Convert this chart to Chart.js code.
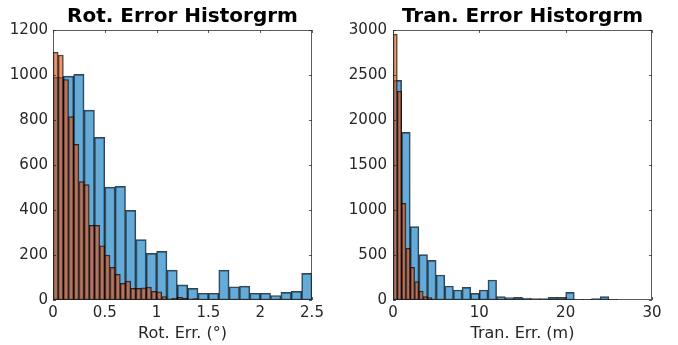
<!DOCTYPE html>
<html>
<head>
<meta charset="utf-8">
<script src="https://cdn.jsdelivr.net/npm/chart.js@4.4.1/dist/chart.umd.min.js"></script>
<style>
  html, body { margin: 0; padding: 0; background: #fff; }
  #wrap { position: relative; width: 678px; height: 345px; }
  canvas { position: absolute; top: 0; }
  #rotChart { left: 0; }
  #tranChart { left: 339px; }
</style>
</head>
<body>
<div id="wrap">
  <canvas id="rotChart" width="339" height="345"></canvas>
  <canvas id="tranChart" width="339" height="345"></canvas>
</div>
<script>
// rotation error histogram (degrees)
const rotBinA = 0.1;   // blue bin width
const rotBinB = 0.05;  // orange bin width
const rotCountsA = [990, 995, 1003, 844, 723, 502, 505, 398, 268, 207, 216, 133, 67,
                    52, 30, 30, 133, 59, 62, 30, 30, 20, 34, 38, 118];
const rotCountsB = [1101, 1089, 980, 815, 692, 526, 513, 332, 332, 241, 200, 145, 114,
                    74, 84, 52, 52, 54, 57, 38, 36, 15, 5, 8, 12, 7, 4, 6, 3, 2, 3, 2, 1, 2, 1];
const rotTicksX = [0, 0.5, 1, 1.5, 2, 2.5];
const rotTicksY = [0, 200, 400, 600, 800, 1000, 1200];

// translation error histogram (metres)
const tranBinA = 1;
const tranBinB = 0.5;
const tranCountsA = [2440, 1863, 815, 505, 440, 278, 156, 111, 141, 74, 111, 222, 37,
                     26, 30, 22, 15, 15, 30, 30, 85, 7, 7, 15, 37, 7];
const tranCountsB = [2955, 2320, 1074, 574, 363, 204, 100, 37, 26, 7];
const tranTicksX = [0, 10, 20, 30];
const tranTicksY = [0, 500, 1000, 1500, 2000, 2500, 3000];

const FONT = "'DejaVu Sans', sans-serif";
const TEXT = '#262626';

function toBins(counts, width) {
    return counts.map((c, i) => ({ x: (i + 0.5) * width, y: c }));
}

// MATLAB style box with inward ticks
const boxPlugin = {
    id: 'matlabBox',
    afterDatasetsDraw(chart) {
        const { ctx, chartArea: a, scales } = chart;
        const x = scales.x, y = scales.y;
        const len = 3;
        ctx.save();
        ctx.strokeStyle = 'rgba(38,38,38,0.75)';
        ctx.lineWidth = 1;
        ctx.strokeRect(Math.round(a.left) + 0.5, Math.round(a.top) + 0.5,
                       Math.round(a.width) - 1, Math.round(a.height) - 1);
        ctx.beginPath();
        x.ticks.forEach(t => {
            const px = Math.round(x.getPixelForValue(t.value)) + 0.5;
            ctx.moveTo(px, a.bottom); ctx.lineTo(px, a.bottom - len);
            ctx.moveTo(px, a.top); ctx.lineTo(px, a.top + len);
        });
        y.ticks.forEach(t => {
            const py = Math.round(y.getPixelForValue(t.value)) + 0.5;
            ctx.moveTo(a.left, py); ctx.lineTo(a.left + len, py);
            ctx.moveTo(a.right, py); ctx.lineTo(a.right - len, py);
        });
        ctx.stroke();
        ctx.restore();
    }
};

function makeHist(id, cfg) {
    const ctx = document.getElementById(id);
    const xMax = cfg.ticksX[cfg.ticksX.length - 1];
    const yMax = cfg.ticksY[cfg.ticksY.length - 1];
    const barStyle = {
        borderWidth: 1,
        borderSkipped: false,
        barPercentage: 1,
        categoryPercentage: 1,
        grouped: false
    };
    return new Chart(ctx, {
        type: 'bar',
        data: {
            datasets: [{
                label: 'A',
                data: toBins(cfg.countsA, cfg.binA),
                backgroundColor: 'rgba(0,114,189,0.6)',
                borderColor: 'rgba(0,0,0,0.75)',
                xAxisID: 'x',
                order: 1,
                ...barStyle
            }, {
                label: 'B',
                data: toBins(cfg.countsB, cfg.binB),
                backgroundColor: 'rgba(217,83,25,0.6)',
                borderColor: 'rgba(0,0,0,0.75)',
                xAxisID: 'x2',
                order: 0,
                ...barStyle
            }]
        },
        options: {
            responsive: false,
            animation: false,
            devicePixelRatio: 1,
            layout: { padding: { left: 0, right: cfg.padRight, top: 0, bottom: 0 } },
            plugins: {
                legend: { display: false },
                tooltip: { enabled: false },
                title: {
                    display: true,
                    text: cfg.title,
                    fullSize: false,
                    color: '#000',
                    font: { family: FONT, size: 20, weight: 'bold', lineHeight: 1.2 },
                    padding: { top: 5, bottom: 1 }
                }
            },
            scales: {
                x: {
                    type: 'linear',
                    min: 0, max: xMax,
                    offset: false,
                    grid: { display: false, drawTicks: false },
                    border: { display: false },
                    afterBuildTicks: s => { s.ticks = cfg.ticksX.map(v => ({ value: v })); },
                    afterFit: s => { s.height = 45; },
                    ticks: {
                        color: TEXT, padding: 4, maxRotation: 0, autoSkip: false,
                        font: { family: FONT, size: 15 },
                        callback: v => String(v)
                    },
                    title: {
                        display: true, text: cfg.xTitle, color: TEXT,
                        font: { family: FONT, size: 16 },
                        padding: { top: 0, bottom: 2 }
                    }
                },
                x2: {
                    type: 'linear',
                    display: false,
                    min: 0, max: xMax,
                    offset: false,
                    afterBuildTicks: s => { s.ticks = cfg.ticksX.map(v => ({ value: v })); }
                },
                y: {
                    min: 0, max: yMax,
                    grid: { display: false, drawTicks: false },
                    border: { display: false },
                    afterBuildTicks: s => { s.ticks = cfg.ticksY.map(v => ({ value: v })); },
                    afterFit: s => { s.width = cfg.axisLeft; },
                    ticks: {
                        color: TEXT, padding: cfg.tickPadY,
                        font: { family: FONT, size: 15 },
                        callback: v => String(v)
                    }
                }
            }
        },
        plugins: [boxPlugin]
    });
}

document.addEventListener('DOMContentLoaded', () => {
    makeHist('rotChart', {
        title: 'Rot. Error Historgrm',
        xTitle: 'Rot. Err. (°)',
        binA: rotBinA, binB: rotBinB,
        countsA: rotCountsA, countsB: rotCountsB,
        ticksX: rotTicksX, ticksY: rotTicksY,
        axisLeft: 53, padRight: 27, tickPadY: 5
    });
    makeHist('tranChart', {
        title: 'Tran. Error Historgrm',
        xTitle: 'Tran. Err. (m)',
        binA: tranBinA, binB: tranBinB,
        countsA: tranCountsA, countsB: tranCountsB,
        ticksX: tranTicksX, ticksY: tranTicksY,
        axisLeft: 54, padRight: 26, tickPadY: 6
    });
});
</script>
</body>
</html>
